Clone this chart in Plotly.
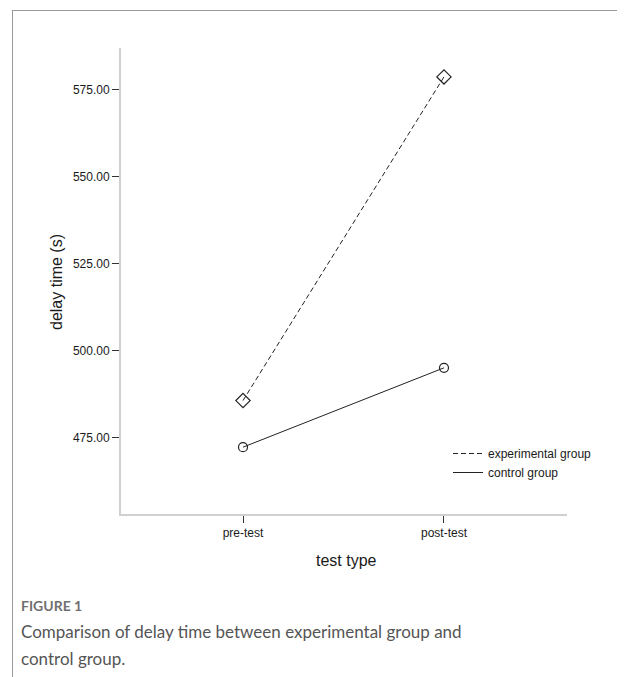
import plotly.graph_objects as go

# page is 625x677, browser body margin shifts the figure by 8px
OFF = 8
W, H = 625 - OFF, 677 - OFF

categories = ["pre-test", "post-test"]
experimental = [485.6, 578.6]
control = [472.2, 495.0]
y_ticks = [475, 500, 525, 550, 575]
y_tick_labels = ["475.00", "500.00", "525.00", "550.00", "575.00"]
legend_names = ["experimental group", "control group"]
caption_lines = ["Comparison of delay time between experimental group and", "control group."]

def px_x(p):
    return (p - OFF) / W

def px_y(p):
    return 1 - (p - OFF) / H

fig = go.Figure()

fig.add_trace(go.Scatter(
    x=[0, 1], y=experimental, mode="lines+markers",
    line=dict(color="#222", width=1, dash="5px,3px"),
    marker=dict(symbol="diamond-open", size=11, color="#222", line=dict(width=1.2)),
    showlegend=False,
))
fig.add_trace(go.Scatter(
    x=[0, 1], y=control, mode="lines+markers",
    line=dict(color="#222", width=1),
    marker=dict(symbol="circle-open", size=9, color="#222", line=dict(width=1.2)),
    showlegend=False,
))
fig.add_trace(go.Scatter(
    x=[None], y=[None], mode="lines", name=legend_names[0],
    line=dict(color="#222", width=1, dash="5px,3px"),
))
fig.add_trace(go.Scatter(
    x=[None], y=[None], mode="lines", name=legend_names[1],
    line=dict(color="#222", width=1),
))

font_main = "Liberation Sans, Arial, sans-serif"
font_cap = "Lato, Open Sans, sans-serif"

fig.update_layout(
    width=W, height=H,
    margin=dict(l=0, r=0, t=0, b=0),
    paper_bgcolor="white", plot_bgcolor="white",
    font=dict(family=font_main, color="#1a1a1a", size=12),
    xaxis=dict(
        domain=[px_x(121), px_x(567)],
        range=[-0.607, 1.612],
        tickvals=[0, 1], ticktext=categories,
        showgrid=False, zeroline=False,
        showline=True, linecolor="#d0d0d0", linewidth=2,
        ticks="outside", ticklen=7, tickcolor="#333", tickwidth=1,
        tickfont=dict(size=12, color="#1a1a1a"),
    ),
    yaxis=dict(
        domain=[px_y(514), px_y(48)],
        range=[453.0, 586.9],
        tickvals=y_ticks, ticktext=y_tick_labels,
        showgrid=False, zeroline=False,
        showline=True, linecolor="#d0d0d0", linewidth=2,
        ticks="outside", ticklen=7, tickcolor="#333", tickwidth=1,
        tickfont=dict(size=12, color="#1a1a1a"),
    ),
    legend=dict(
        x=px_x(448), y=px_y(439), xanchor="left", yanchor="top",
        bgcolor="rgba(0,0,0,0)", font=dict(size=12, color="#1a1a1a"),
        itemwidth=30, tracegroupgap=0,
    ),
    shapes=[
        dict(type="line", xref="paper", yref="paper",
             x0=px_x(12), x1=1.0, y0=px_y(10.5), y1=px_y(10.5),
             line=dict(color="#9a9a9a", width=1)),
        dict(type="line", xref="paper", yref="paper",
             x0=px_x(12.5), x1=px_x(12.5), y0=px_y(10), y1=0,
             line=dict(color="#9a9a9a", width=1)),
    ],
    annotations=[
        dict(text="delay time (s)", xref="paper", yref="paper",
             x=px_x(57), y=px_y(282), textangle=-90, showarrow=False,
             font=dict(size=16, color="#1a1a1a", family=font_main),
             xanchor="center", yanchor="middle"),
        dict(text="test type", xref="paper", yref="paper",
             x=px_x(346), y=px_y(560), showarrow=False,
             font=dict(size=16, color="#1a1a1a", family=font_main),
             xanchor="center", yanchor="middle"),
        dict(text="<b>FIGURE 1</b>", xref="paper", yref="paper",
             x=px_x(19), y=px_y(605), showarrow=False,
             font=dict(size=14, color="#707070", family=font_cap),
             xanchor="left", yanchor="middle"),
        dict(text=caption_lines[0], xref="paper", yref="paper",
             x=px_x(19), y=px_y(631), showarrow=False,
             font=dict(size=17, color="#555", family=font_cap),
             xanchor="left", yanchor="middle"),
        dict(text=caption_lines[1], xref="paper", yref="paper",
             x=px_x(19), y=px_y(658), showarrow=False,
             font=dict(size=17, color="#555", family=font_cap),
             xanchor="left", yanchor="middle"),
    ],
)

fig.write_html("out.html")
